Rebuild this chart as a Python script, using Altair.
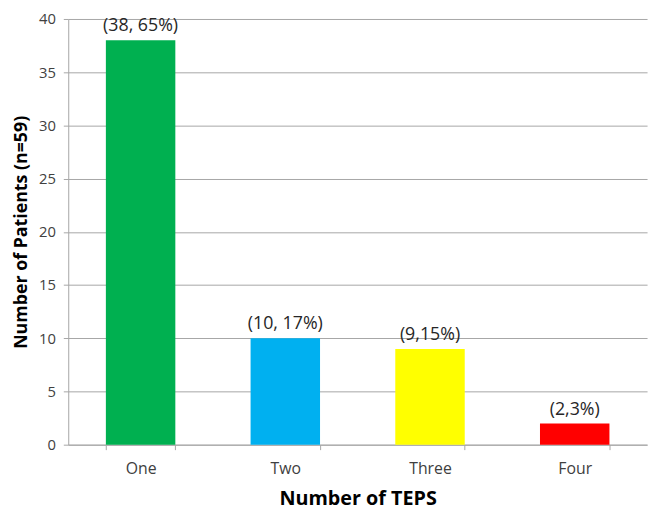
import altair as alt
import pandas as pd

categories = ["One", "Two", "Three", "Four"]
counts = [38, 10, 9, 2]
labels = ["(38, 65%)", "(10, 17%)", "(9,15%)", "(2,3%)"]
colors = ["#00B050", "#00B0F0", "#FFFF00", "#FF0000"]

df = pd.DataFrame({"cat": categories, "n": counts, "lab": labels, "col": colors})

FONT = "Open Sans"

x = alt.X(
    "cat:N",
    sort=categories,
    scale=alt.Scale(paddingInner=0.52, paddingOuter=0.26),
    axis=alt.Axis(
        title="Number of TEPS",
        titleFont=FONT, titleFontSize=20, titleFontWeight="bold", titleColor="#000000",
        titlePadding=13,
        labelFont=FONT, labelFontSize=16, labelColor="#404040", labelAngle=0, labelPadding=11,
        tickBand="extent", tickSize=5, tickColor="#A6A6A6", domainColor="#A6A6A6",
        grid=False,
    ),
)
y = alt.Y(
    "n:Q",
    scale=alt.Scale(domain=[0, 40]),
    axis=alt.Axis(
        title="Number of Patients (n=59)",
        titleFont=FONT, titleFontSize=18, titleFontWeight="bold", titleColor="#000000",
        titlePadding=8,
        labelFont=FONT, labelFontSize=15, labelColor="#404040", labelPadding=8,
        values=[0, 5, 10, 15, 20, 25, 30, 35, 40],
        tickSize=5, tickColor="#A6A6A6", domainColor="#A6A6A6",
        grid=True, gridColor="#A6A6A6", gridWidth=1,
    ),
)

bars = alt.Chart(df).mark_bar().encode(
    x=x, y=y, color=alt.Color("col:N", scale=None)
)
text = alt.Chart(df).mark_text(
    dy=-14, font=FONT, fontSize=18, color="#262626"
).encode(x=alt.X("cat:N", sort=categories), y="n:Q", text="lab:N")

chart = (bars + text).properties(
    width=586, height=431,
    autosize=alt.AutoSizeParams(type="none"),
    padding={"left": 61, "top": 8, "right": 5, "bottom": 63},
).configure_view(stroke=None)

chart.save("out.html", embed_options={"renderer": "svg", "actions": False})
